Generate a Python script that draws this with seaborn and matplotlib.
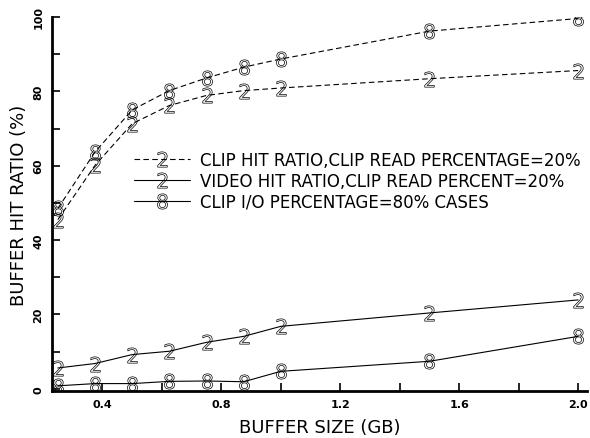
import matplotlib
matplotlib.use('Agg')
from matplotlib import pyplot as plt
from matplotlib.lines import Line2D
import seaborn as sns

# buffer sizes (GB)
buffer_gb = [0.25, 0.375, 0.5, 0.625, 0.75, 0.875, 1.0, 1.5, 2.0]

# dashed curves
clip_hit_20 = [45.5, 60.1, 71.3, 76.2, 78.9, 80.2, 80.9, 83.4, 85.6]
clip_hit_80 = [48.5, 63.7, 75.0, 80.2, 83.6, 86.5, 88.7, 96.2, 99.6]
# solid curves
video_hit_20 = [5.6, 6.8, 9.2, 10.1, 12.5, 14.1, 16.8, 20.4, 23.9]
video_hit_80 = [0.8, 1.4, 1.4, 2.0, 2.1, 1.9, 4.7, 7.4, 14.1]

legend_labels = ['CLIP HIT RATIO,CLIP READ PERCENTAGE=20%',
                 'VIDEO HIT RATIO,CLIP READ PERCENT=20%',
                 'CLIP I/O PERCENTAGE=80% CASES']

sns.set_style('ticks')
plt.rcParams['font.family'] = ['DejaVu Sans']
plt.rcParams['text.color'] = 'black'
plt.rcParams['axes.labelcolor'] = 'black'

fig = plt.figure(figsize=(5.9, 4.39), dpi=100)
ax = fig.add_axes([0.088, 0.107, 0.907, 0.852])

ms = 11
mk = dict(markersize=ms, mec='black', mfc='none', mew=0.5)
dash = (5, 3)
sns.lineplot(x=buffer_gb, y=clip_hit_20, ax=ax, color='black', lw=0.8,
             linestyle='--', marker='$2$', **mk)
sns.lineplot(x=buffer_gb, y=clip_hit_80, ax=ax, color='black', lw=0.8,
             linestyle='--', marker='$8$', **mk)
sns.lineplot(x=buffer_gb, y=video_hit_20, ax=ax, color='black', lw=0.8,
             marker='$2$', **mk)
sns.lineplot(x=buffer_gb, y=video_hit_80, ax=ax, color='black', lw=0.8,
             marker='$8$', **mk)
for ln in ax.lines[:2]:
    ln.set_dashes(dash)

ax.set_xlim(0.23, 2.03)
ax.set_ylim(-0.6, 100)
ax.set_xticks([0.4, 0.6, 0.8, 1.0, 1.2, 1.4, 1.6, 1.8, 2.0])
ax.set_xticklabels(['0.4', '', '0.8', '', '1.2', '', '1.6', '', '2.0'],
                   fontsize=8, fontweight='bold')
ax.set_yticks(range(0, 101, 10))
ax.set_yticklabels([str(v) if v % 20 == 0 else '' for v in range(0, 101, 10)],
                   fontsize=8, fontweight='bold', rotation=90, va='center')
ax.tick_params(direction='in', length=6, width=1.2, colors='black', pad=6)
for s in ['left', 'bottom']:
    ax.spines[s].set_linewidth(2)
    ax.spines[s].set_color('black')
sns.despine(ax=ax)

ax.set_xlabel('BUFFER SIZE (GB)', fontsize=13, labelpad=6)
ax.set_ylabel('BUFFER HIT RATIO (%)', fontsize=13, labelpad=4)

handles = [
    Line2D([], [], color='black', lw=0.8, linestyle=(0, dash), marker='$2$', **mk),
    Line2D([], [], color='black', lw=0.8, marker='$2$', **mk),
    Line2D([], [], color='black', lw=0.8, marker='$8$', **mk),
]
ax.legend(handles, legend_labels, loc='upper left', bbox_to_anchor=(0.14, 0.66),
          frameon=False, fontsize=12, handlelength=3.4, handletextpad=0.6,
          labelspacing=0.18, numpoints=1, borderaxespad=0)

fig.savefig('out.png', dpi=100)
